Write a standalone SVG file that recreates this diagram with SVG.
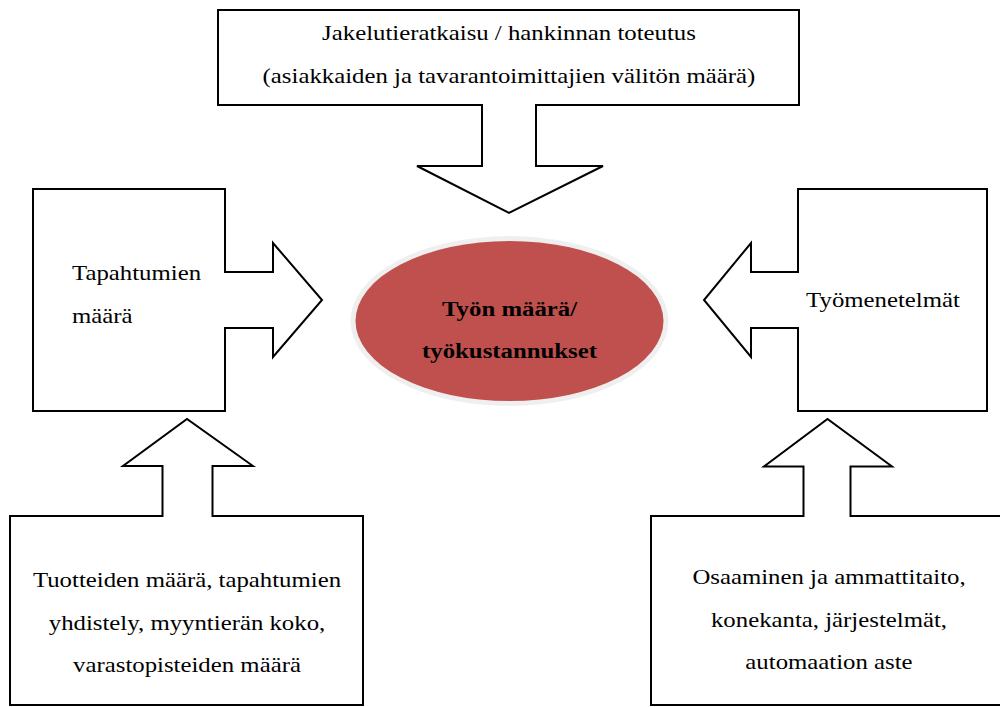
<svg xmlns="http://www.w3.org/2000/svg" width="1000" height="707" viewBox="0 0 1000 707">
<style>
.sh{fill:#fff;stroke:#000;stroke-width:2;stroke-linejoin:miter}
.t{font-family:"Liberation Serif","Times New Roman",serif;font-size:20px;fill:#000}
.m{text-anchor:middle}
.b{font-weight:bold}
</style>
<rect width="1000" height="707" fill="#fff"/>
<g id="connectors"></g>
<g id="top">
<path class="sh" d="M218,10 H799 V105 H536 V166 H603 L509,213 L417,166 H482 V105 H218 Z"/>
<g transform="translate(509,40) scale(1.24,1)"><text class="t m" x="0" y="0">Jakelutieratkaisu / hankinnan toteutus</text></g>
<g transform="translate(509,82.5) scale(1.24,1)"><text class="t m" x="0" y="0">(asiakkaiden ja tavarantoimittajien välitön määrä)</text></g>
</g>
<g id="left">
<path class="sh" d="M33,189 H225 V272 H273 V243 L322,300 L273,357 V328 H225 V411 H33 Z"/>
<g transform="translate(72,280) scale(1.24,1)"><text class="t" x="0" y="0">Tapahtumien</text></g>
<g transform="translate(72,322.5) scale(1.24,1)"><text class="t" x="0" y="0">määrä</text></g>
</g>
<g id="right">
<path class="sh" d="M798,189 H987 V411 H798 V328 H751 V357 L704,300 L751,243 V272 H798 Z"/>
<g transform="translate(883,307) scale(1.24,1)"><text class="t m" x="0" y="0">Työmenetelmät</text></g>
</g>
<g id="center">
<ellipse cx="509.5" cy="321" rx="159" ry="85" fill="#EFEFEF"/>
<ellipse cx="509.5" cy="321" rx="154" ry="80" fill="#C0504D"/>
<g transform="translate(509.5,315.5) scale(1.24,1)"><text class="t m b" x="0" y="0">Työn määrä/</text></g>
<g transform="translate(509.5,358) scale(1.24,1)"><text class="t m b" x="0" y="0">työkustannukset</text></g>
</g>
<g id="bottomleft">
<path class="sh" d="M10,516 H162.5 V466 H123 L187,419 L253,466 H212.5 V516 H363 V705 H10 Z"/>
<g transform="translate(187,587) scale(1.24,1)"><text class="t m" x="0" y="0">Tuotteiden määrä, tapahtumien</text></g>
<g transform="translate(187,629.5) scale(1.24,1)"><text class="t m" x="0" y="0">yhdistely, myyntierän koko,</text></g>
<g transform="translate(187,672) scale(1.24,1)"><text class="t m" x="0" y="0">varastopisteiden määrä</text></g>
</g>
<g id="bottomright">
<path class="sh" d="M651,516 H803.5 V466.5 H764 L827.5,419 L892,466.5 H850.5 V516 H1005 V705 H651 Z"/>
<g transform="translate(829,584) scale(1.24,1)"><text class="t m" x="0" y="0">Osaaminen ja ammattitaito,</text></g>
<g transform="translate(829,626.5) scale(1.24,1)"><text class="t m" x="0" y="0">konekanta, järjestelmät,</text></g>
<g transform="translate(829,669) scale(1.24,1)"><text class="t m" x="0" y="0">automaation aste</text></g>
</g>
</svg>
